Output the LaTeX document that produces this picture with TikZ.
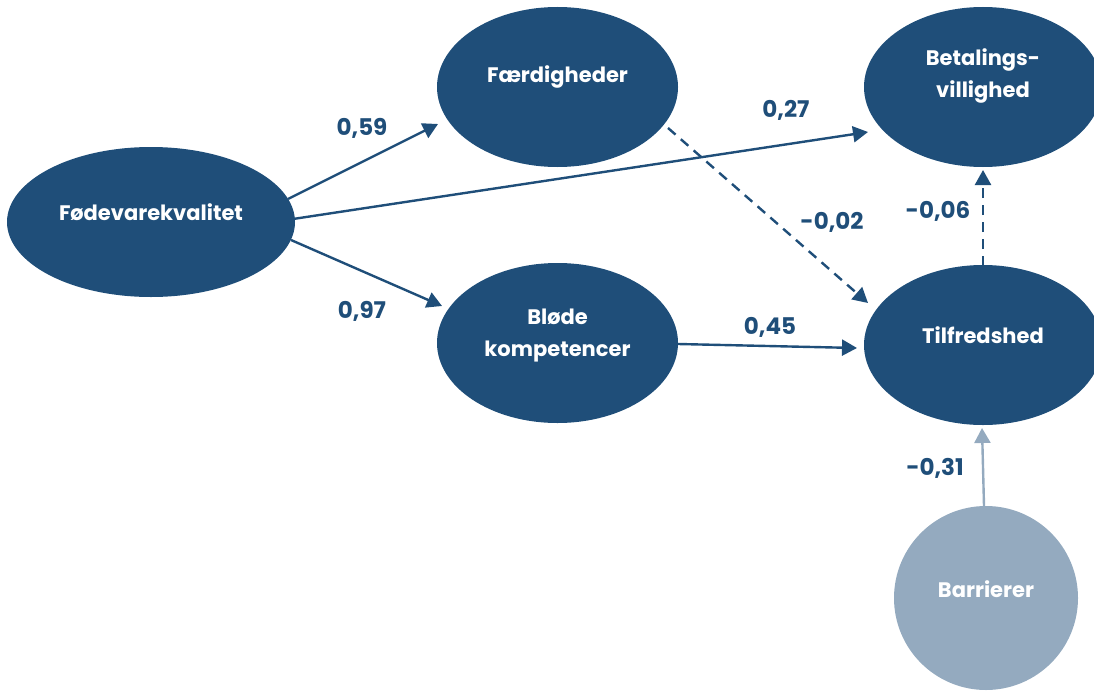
\documentclass[tikz,border=0pt]{standalone}
\usepackage{fontspec}
\setmainfont{Poppins}
\usetikzlibrary{shapes.geometric,arrows.meta}
\definecolor{dblue}{HTML}{1F4E79}
\definecolor{lblue}{HTML}{94AABF}
\begin{document}
\begin{tikzpicture}[x=1pt,y=-1pt,
  ell/.style={ellipse,fill=dblue,draw=none,inner sep=0pt,outer sep=0pt},
  ntext/.style={text=white,font=\fontsize{21}{32}\selectfont\bfseries,align=center,inner sep=0pt},
  coef/.style={text=dblue,font=\fontsize{23}{26}\selectfont\bfseries,inner sep=0pt},
  conn/.style={draw=dblue,line width=2.4pt,-{Triangle[length=15pt,width=16pt]}},
  dconn/.style={conn,dash pattern=on 10pt off 7pt},
]
\useasboundingbox (0,0) rectangle (1094,693);
\begin{scope}
\clip (0,0) rectangle (1094,693);
\node[ell,minimum width=288pt,minimum height=150pt] (fk) at (151,222) {};
\node[ell,minimum width=241pt,minimum height=160pt] (fd) at (557.5,87) {};
\node[ell,minimum width=238pt,minimum height=160pt] (bv) at (983,87) {};
\node[ell,minimum width=241pt,minimum height=160pt] (bk) at (557.5,343) {};
\node[ell,minimum width=238pt,minimum height=160pt] (tf) at (983,345) {};
\node[circle,fill=lblue,inner sep=0pt,outer sep=0pt,minimum size=184pt] (ba) at (986,598) {};
\end{scope}
\node[ntext] (tfk) at ([yshift=10pt]fk.center) {Fødevarekvalitet};
\node[ntext] (tfd) at ([yshift=10pt]fd.center) {Færdigheder};
\node[ntext] (tbv) at ([yshift=11pt]bv.center) {Betalings-\\villighed};
\node[ntext] (tbk) at ([yshift=7pt]bk.center) {Bløde\\kompetencer};
\node[ntext] (ttf) at ([yshift=10pt]tf.center) {Tilfredshed};
\node[ntext] (tba) at ([yshift=9pt]ba.center) {Barrierer};

\draw[conn] ([shift={(137,-23)}]fk.center) -- ([shift={(-119.5,37)}]fd.center);
\draw[conn] ([shift={(142,-3)}]fk.center) -- ([shift={(-115,45)}]bv.center);
\draw[conn] ([shift={(140,18)}]fk.center) -- ([shift={(-115.5,-37)}]bk.center);
\draw[dconn] ([shift={(110.5,41)}]fd.center) -- ([shift={(-115,-42)}]tf.center);
\draw[conn] ([shift={(120.5,1)}]bk.center) -- ([shift={(-126,3)}]tf.center);
\draw[dconn] ([shift={(0,-79)}]tf.center) -- ([shift={(0,83)}]bv.center);
\draw[conn,draw=lblue,fill=lblue] ([shift={(-2,-92)}]ba.center) -- ([shift={(-1,83)}]tf.center);

\node[coef] (c1) at (362,128) {0,59};
\node[coef] (c2) at (786,110) {0,27};
\node[coef] (c3) at (362,311) {0,97};
\node[coef] (c4) at (832,222) {-0,02};
\node[coef] (c5) at (938,211) {-0,06};
\node[coef] (c6) at (770,327) {0,45};
\node[coef] (c7) at (935,468) {-0,31};
\end{tikzpicture}
\end{document}
